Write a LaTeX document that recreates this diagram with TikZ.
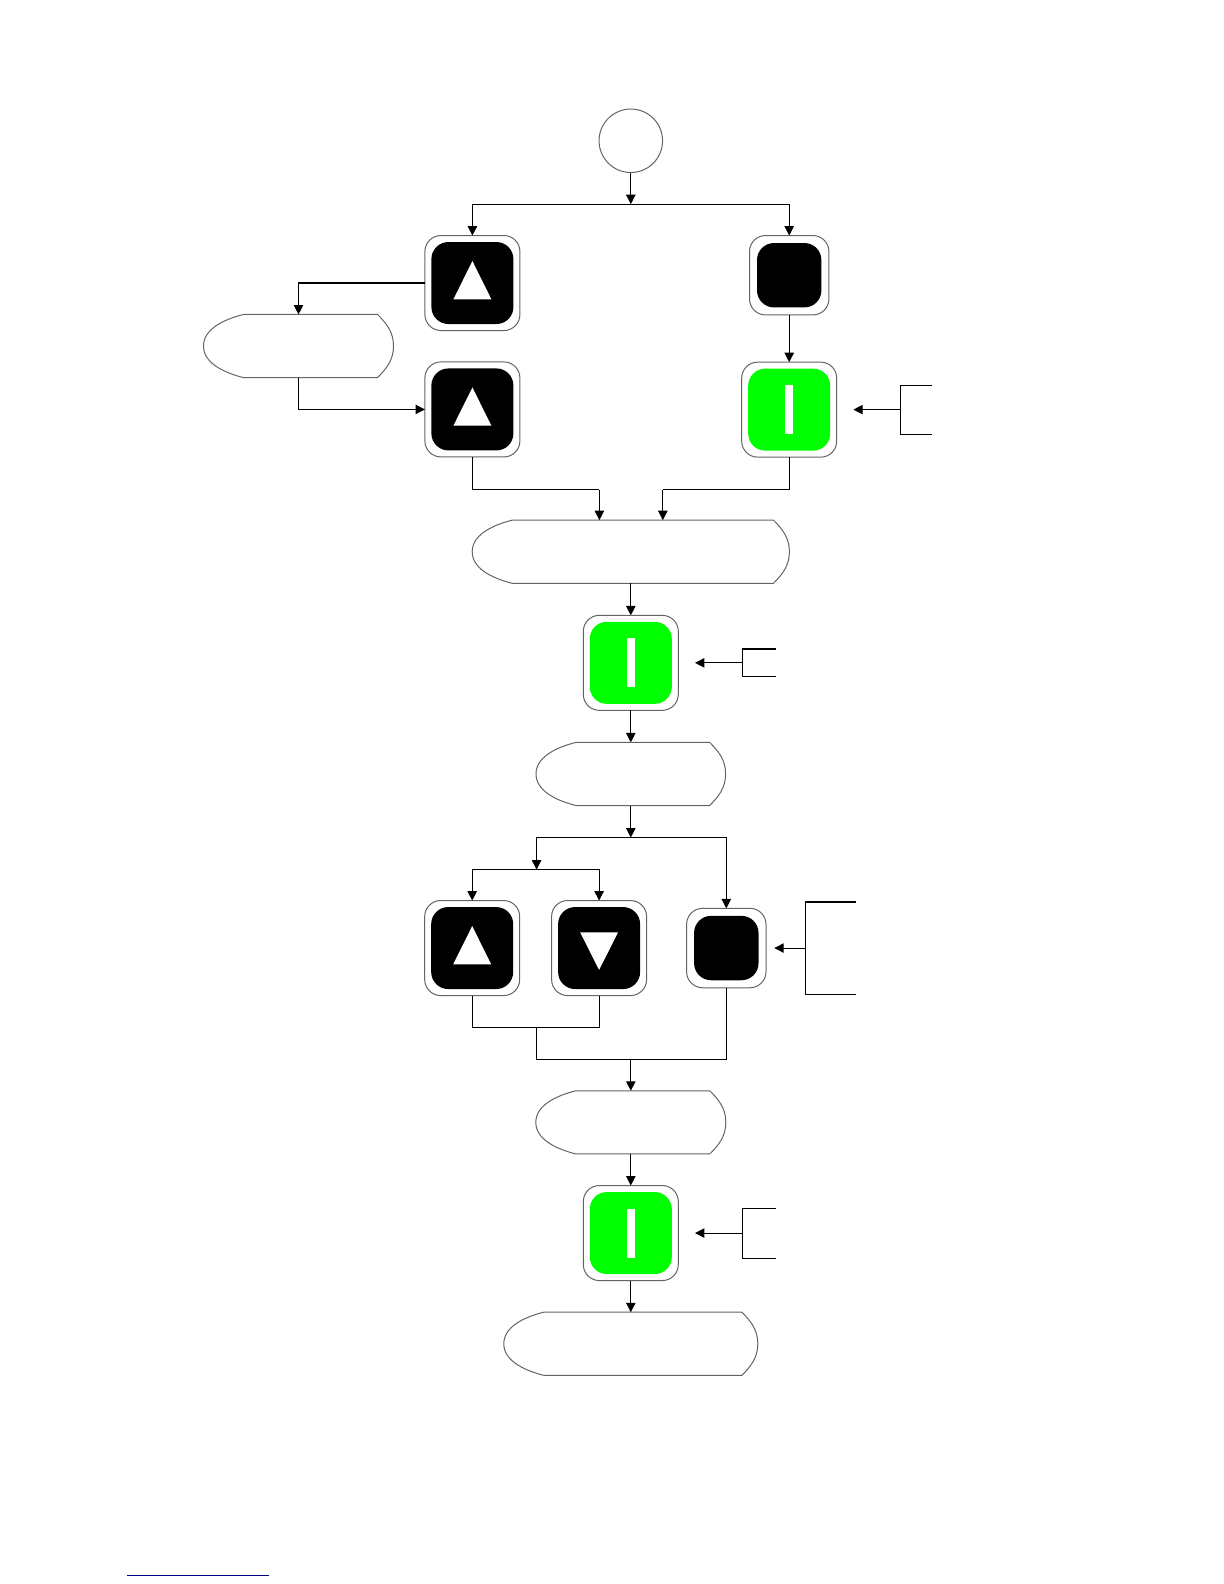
\documentclass[tikz,border=0pt]{standalone}
\usepackage{xcolor}
\usetikzlibrary{arrows.meta,positioning,calc}
\definecolor{edgegray}{RGB}{100,100,100}
\definecolor{keygreen}{RGB}{0,255,0}
\definecolor{linkblue}{RGB}{0,0,128}
\begin{document}
\begin{tikzpicture}[x=1bp,y=1bp,node distance=15.95bp,key/.style={draw=edgegray,line width=0.5bp,rounded corners=8bp,minimum size=47.5bp,inner sep=0pt,outer sep=0pt},smallkey/.style={key,minimum size=39.7bp},inkey/.style={fill=black,rounded corners=8.5bp,minimum size=41bp,inner sep=0pt},insmall/.style={inkey,minimum size=32.2bp},ingreen/.style={inkey,fill=keygreen},term/.style={minimum height=31.6bp,inner sep=0pt,outer sep=0pt},conn/.style={line width=0.55bp,draw=black},arr/.style={conn,-{Triangle[length=4.7bp,width=4.7bp]}}]
\useasboundingbox (0,0) rectangle (612,792);
\node[circle,draw=edgegray,line width=0.5bp,minimum size=31.75bp,inner sep=0pt,outer sep=0pt] (S) at (315.4,721.6) {};
\coordinate[below=15.8bp of S] (J1);
\node[key,below=31.5bp of S,xshift=-79.2bp] (U1) {};
\node[smallkey,below=31.5bp of S,xshift=79.2bp] (P1) {};
\node[term,minimum width=95bp,left=15.7bp of U1,yshift=-31.5bp] (T1) {};
\node[key,below=15.7bp of U1] (U2) {};
\node[key,below=23.6bp of P1] (K0) {};
\node[term,minimum width=158.6bp,below=31.6bp of U2,xshift=79.2bp] (T2) {};
\coordinate[above=15.2bp of T2.north,xshift=-15.7bp] (J2);
\coordinate[above=15.2bp of T2.north,xshift=16bp] (J2b);
\node[key,below=16bp of T2] (K1) {};
\node[term,minimum width=94.8bp,below=16bp of K1] (T3) {};
\coordinate[below=16bp of T3] (J3);
\coordinate[below=16bp of J3,xshift=-47.1bp] (J4);
\node[key,below=15.5bp of J4,xshift=-32.2bp] (U3) {};
\node[key,right=of U3] (U4) {};
\node[smallkey,right=20bp of U4] (P3) {};
\coordinate[below=16bp of U3,xshift=32.2bp] (J5);
\coordinate[below=16bp of J5,xshift=47.1bp] (J6);
\node[term,minimum width=95bp,below=15.6bp of J6] (T4) {};
\node[key,below=15.8bp of T4] (K3) {};
\node[term,minimum width=127bp,below=15.8bp of K3] (T5) {};
\coordinate (L1) at (63.5,4.35);
\coordinate (L2) at (134.5,4.35);
% key faces
\foreach \k in {U1,U2,U3,U4}{\node[inkey] (\k i) at (\k) {};}
\foreach \k in {P1,P3}{\node[insmall] (\k i) at (\k) {};}
\foreach \k in {K0,K1,K3}{\node[ingreen] (\k i) at (\k) {}; \fill[white] ($(\k)+(-2.1,-12.25)$) rectangle ($(\k)+(2.1,12.25)$);}
\foreach \k in {U1,U2,U3}{\fill[white] ($(\k)+(0,11)$) -- ($(\k)+(9.5,-8.15)$) -- ($(\k)+(-9.5,-8.15)$) -- cycle;}
\fill[white] ($(U4)+(-9.5,7.9)$) -- ($(U4)+(9.5,7.9)$) -- ($(U4)+(0,-10.95)$) -- cycle;
% terminator outlines
\foreach \t in {T1,T2,T3,T4,T5}{\draw[edgegray,line width=0.5bp] ($(\t.north west)+(20,0)$) -- ($(\t.north east)+(-8,0)$) .. controls ($(\t.north east)+(-3.5,-4.5)$) and ($(\t.east)+(0,7)$) .. (\t.east) .. controls ($(\t.east)+(0,-7)$) and ($(\t.south east)+(-3.5,4.5)$) .. ($(\t.south east)+(-8,0)$) -- ($(\t.south west)+(20,0)$) .. controls ($(\t.west)+(9,-13)$) and ($(\t.west)+(0,-8)$) .. (\t.west) .. controls ($(\t.west)+(0,8)$) and ($(\t.west)+(9,13)$) .. ($(\t.north west)+(20,0)$) -- cycle;}
% connectors
\draw[arr] (S)--(J1); \draw[arr] (J1) -| (U1.north); \draw[arr] (J1) -| (P1.north);
\draw[arr] (U1.west) -| (T1.north); \draw[arr] (T1.south) |- (U2.west); \draw[arr] (P1)--(K0);
\draw[conn] (U2.south) |- (J2); \draw[arr] (J2)--(J2 |- T2.north);
\draw[conn] (K0.south) |- (J2b); \draw[arr] (J2b)--(J2b |- T2.north);
\draw[arr] (T2)--(K1); \draw[arr] (K1)--(T3); \draw[arr] (T3)--(J3);
\draw[arr] (J3) -| (J4); \draw[arr] (J3) -| (P3.north);
\draw[arr] (J4) -| (U3.north); \draw[arr] (J4) -| (U4.north);
\draw[conn] (U3.south) |- (J5) -| (U4.south);
\draw[conn] (J5) |- (J6); \draw[conn] (P3.south) |- (J6);
\draw[arr] (J6)--(T4); \draw[arr] (T4)--(K3); \draw[arr] (K3)--(T5);
% side brackets
\foreach \k/\g/\s/\h/\a in {K0/8.3/23.5/12.25/15.7,K1/8.35/23.65/6.9/16.85,K3/8.35/23.65/12.5/17,P3/4.15/15.65/23/25.2}{
\coordinate[right=\g bp of \k] (\k t);
\coordinate[right=\s bp of \k t] (\k m);
\coordinate[above=\h bp of \k m,xshift=\a bp] (\k a);
\coordinate[below=\h bp of \k m,xshift=\a bp] (\k b);
\draw[arr] (\k m)--(\k t); \draw[conn] (\k a) -| (\k m) |- (\k b);}
\draw[linkblue,line width=0.65bp] (L1)--(L2);
\end{tikzpicture}
\end{document}
